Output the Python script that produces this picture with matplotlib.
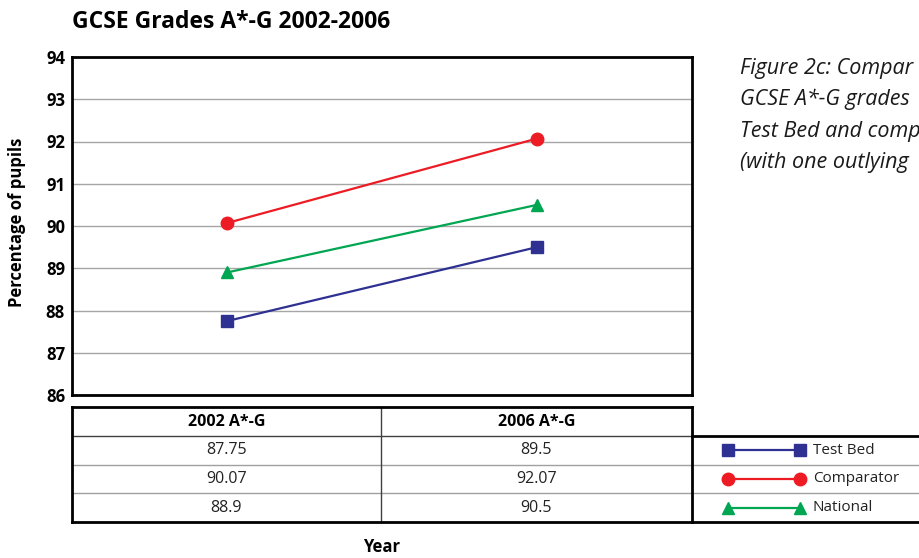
import matplotlib
matplotlib.use("Agg")
from matplotlib import pyplot as plt
from matplotlib.lines import Line2D

plt.rcParams["font.family"] = ["Open Sans", "DejaVu Sans"]

# data
columns = ["2002 A*-G", "2006 A*-G"]
series_names = ["Test Bed", "Comparator", "National"]
test_bed = [87.75, 89.5]
comparator = [90.07, 92.07]
national = [88.9, 90.5]
y_ticks = list(range(86, 95))
title = "GCSE Grades A*-G 2002-2006"
caption = [
    "Figure 2c: Compar",
    "GCSE A*-G grades",
    "Test Bed and comp",
    "(with one outlying",
]

W, H = 920, 558
fig = plt.figure(figsize=(W / 100, H / 100), dpi=100)


def px(x0, y0, x1, y1):
    # pixel box -> figure fraction
    return [x0 / W, 1 - y1 / H, (x1 - x0) / W, (y1 - y0) / H]


series = [test_bed, comparator, national]
styles = [("#2e3192", "s", 8), ("#ed1c24", "o", 9), ("#00a651", "^", 9)]

# main chart
ax = fig.add_axes(px(72, 57, 692, 395))
xs = range(len(columns))
for vals, (c, m, ms) in zip(series, styles):
    ax.plot(xs, vals, color=c, marker=m, markersize=ms, lw=1.6, zorder=3)
ax.set_xlim(-0.5, len(columns) - 0.5)
ax.set_ylim(y_ticks[0], y_ticks[-1])
ax.set_yticks(y_ticks)
ax.set_xticks([])
ax.yaxis.grid(True, color="#a6a6a6", lw=1)
ax.set_axisbelow(True)
for s in ax.spines.values():
    s.set_linewidth(2)
ax.tick_params(axis="y", length=0, pad=5, labelsize=12)
for lbl in ax.get_yticklabels():
    lbl.set_fontweight("bold")

fig.text(17 / W, 1 - 222 / H, "Percentage of pupils", rotation=90,
         fontsize=12, fontweight="bold", ha="center", va="center")
fig.text(72 / W, 1 - 28 / H, title, fontsize=16.5, fontweight="bold",
         ha="left", va="baseline")
fig.text(382 / W, 1 - 547 / H, "Year", fontsize=12, fontweight="bold",
         ha="center", va="center")
for i, line in enumerate(caption):
    fig.text(740 / W, 1 - (74 + 31.3 * i) / H, line, fontsize=15.5,
             style="italic", color="#1a1a1a", ha="left", va="baseline")

# data table + legend (pixel coords overlay)
tb = fig.add_axes([0, 0, 1, 1])
tb.set_xlim(0, W)
tb.set_ylim(H, 0)
tb.axis("off")

top, head, bot = 407, 436, 522
left, mid, right = 72, 381, 692
row_h = (bot - head) / len(series)

for k in range(1, len(series)):
    y = head + row_h * k
    tb.plot([left, W], [y, y], color="#a0a0a0", lw=1)
tb.plot([left, right], [head, head], color="#404040", lw=1)
tb.plot([mid, mid], [top, bot], color="#404040", lw=1)

blk = dict(color="black", lw=2, solid_capstyle="projecting")
tb.plot([left, right], [top, top], **blk)
tb.plot([left, W], [bot, bot], **blk)
tb.plot([right, W], [head, head], **blk)
tb.plot([left, left], [top, bot], **blk)
tb.plot([right, right], [top, bot], **blk)

col_x = [(left + mid) / 2, (mid + right) / 2]
for j, name in enumerate(columns):
    tb.text(col_x[j], (top + head) / 2, name, fontsize=11.5, fontweight="bold",
            ha="center", va="center")
    for i, vals in enumerate(series):
        tb.text(col_x[j], head + row_h * (i + 0.5), f"{vals[j]:g}",
                fontsize=11.5, color="#222222", ha="center", va="center")

for i, (name, (c, m, ms)) in enumerate(zip(series_names, styles)):
    y = head + row_h * (i + 0.5)
    tb.add_line(Line2D([728, 800], [y, y], color=c, marker=m,
                       markersize=ms, lw=1.6))
    tb.text(813, y, name, fontsize=11, color="#222222",
            ha="left", va="center")

fig.savefig("out.png", dpi=100)
